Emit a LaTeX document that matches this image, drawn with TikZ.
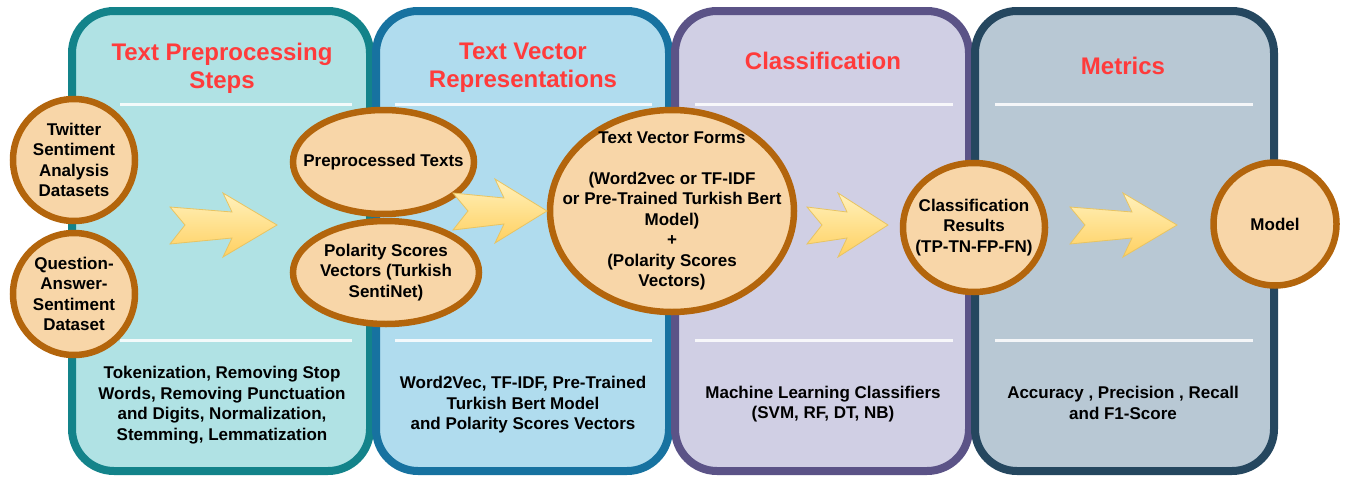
\documentclass[tikz,border=0pt]{standalone}
\usepackage{fontspec}
\setmainfont{Liberation Sans}
\usetikzlibrary{shapes.geometric}

\definecolor{tealedge}{HTML}{13838A}
\definecolor{tealfill}{HTML}{B0E2E4}
\definecolor{blueedge}{HTML}{1772A0}
\definecolor{bluefill}{HTML}{B0DCEE}
\definecolor{violetedge}{HTML}{5B5387}
\definecolor{violetfill}{HTML}{D0CFE4}
\definecolor{navyedge}{HTML}{25475F}
\definecolor{navyfill}{HTML}{B8C8D4}
\definecolor{bubblefill}{HTML}{F8D6A8}
\definecolor{bubbleedge}{HTML}{B3650C}
\definecolor{titlered}{HTML}{FF3B3B}
\definecolor{arrowtop}{HTML}{FFF1BC}
\definecolor{arrowbottom}{HTML}{FFD060}
\definecolor{arrowedge}{HTML}{E8C462}

\tikzset{
  panel/.style={line width=8pt, rounded corners=42pt},
  divider/.style={draw=white, line width=3pt, opacity=0.85},
  paneltitle/.style={text=titlered, font=\bfseries\fontsize{24}{28}\selectfont, align=center, inner sep=0pt},
  paneltext/.style={font=\bfseries\fontsize{17}{20.5}\selectfont, align=center, inner sep=0pt},
  bubble/.style={draw=bubbleedge, fill=bubblefill, line width=6.5pt, inner sep=0pt},
  bubbletext/.style={font=\bfseries\fontsize{17}{20.5}\selectfont, align=center, inner sep=0pt},
  flowarrow/.style={draw=arrowedge, line width=0.8pt, top color=arrowtop, bottom color=arrowbottom, line join=miter},
}

% notched block arrow: tail x, head base x, tip x, centre y
\newcommand\flowarrow[4]{%
  \path[flowarrow] (#1,#4-18) -- (#2+9,#4-13) -- (#2,#4-32) -- (#3,#4)
    -- (#2,#4+32) -- (#2+9,#4+13) -- (#1,#4+19) -- (#1+15,#4) -- cycle;}

\begin{document}
\begin{tikzpicture}[x=1pt, y=-1pt]
\useasboundingbox (0,0) rectangle (1346,479);

% the four stage panels
\draw[panel, draw=tealedge,   fill=tealfill]   (72,11)  rectangle (370,471);
\draw[panel, draw=blueedge,   fill=bluefill]   (376,11) rectangle (669,471);
\draw[panel, draw=violetedge, fill=violetfill] (675,11) rectangle (969,471);
\draw[panel, draw=navyedge,   fill=navyfill]   (975,11) rectangle (1274,471);

% white dividers
\foreach \a/\b in {120/352, 395/652, 695/953, 995/1253} {
  \draw[divider] (\a,104) -- (\b,104);
  \draw[divider] (\a,340) -- (\b,340);
}

% titles
\node[paneltitle] (t1) at (222,68) {Text Preprocessing\\Steps};
\node[paneltitle] (t2) at (523,68) {Text Vector\\Representations};
\node[paneltitle, anchor=base] (t3) at (823,69) {Classification};
\node[paneltitle, anchor=base] (t4) at (1123,74) {Metrics};

% descriptions
\node[paneltext] (d1) at (222,405) {Tokenization, Removing Stop\\Words, Removing Punctuation\\and Digits, Normalization,\\Stemming, Lemmatization};
\node[paneltext] (d2) at (523,405) {Word2Vec, TF-IDF, Pre-Trained\\Turkish Bert Model\\and Polarity Scores Vectors};
\node[paneltext] (d3) at (823,404) {Machine Learning Classifiers\\(SVM, RF, DT, NB)};
\node[paneltext] (d4) at (1123,403) {Accuracy , Precision , Recall\\and F1-Score};

% data bubbles
\node[bubble, circle, minimum size=122pt,
  label={[bubbletext]center:Twitter\\Sentiment\\Analysis\\Datasets}] (twitter) at (74,160) {};
\node[bubble, circle, minimum size=122pt,
  label={[bubbletext]center:Question-\\Answer-\\Sentiment\\Dataset}] (qa) at (74,294) {};
\node[bubble, ellipse, minimum width=181pt, minimum height=104pt,
  label={[bubbletext]center:Preprocessed Texts}] (pre) at (383.5,162) {};
\node[bubble, ellipse, minimum width=186pt, minimum height=103pt,
  label={[bubbletext]center:Polarity Scores\\Vectors (Turkish\\SentiNet)}] (pol) at (386,272.5) {};
\node[bubble, ellipse, minimum width=244pt, minimum height=202pt,
  label={[bubbletext]center:Text Vector Forms\\[20.5pt](Word2vec or TF-IDF\\or Pre-Trained Turkish Bert\\Model)\\+\\(Polarity Scores\\Vectors)}] (tvf) at (672,211) {};
\node[bubble, ellipse, minimum width=142pt, minimum height=129pt,
  label={[bubbletext]center:Classification\\Results\\(TP-TN-FP-FN)}] (res) at (974,227.5) {};
\node[bubble, circle, minimum size=123pt,
  label={[bubbletext]center:Model}] (model) at (1275,224) {};

% flow arrows between stages
\flowarrow{170}{223}{277}{225}
\flowarrow{453}{495}{547}{211}
\flowarrow{807}{838}{888}{225}
\flowarrow{1070}{1123}{1177}{225}
\end{tikzpicture}
\end{document}
